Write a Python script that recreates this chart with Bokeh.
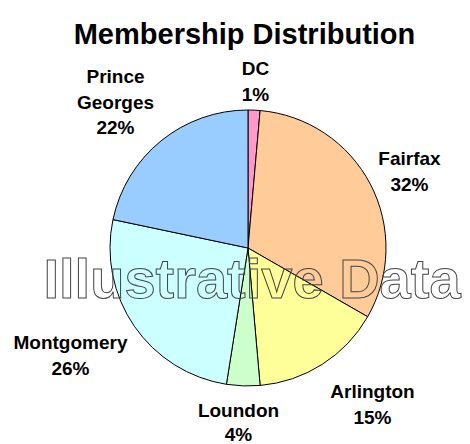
import math
from bokeh.plotting import figure
from bokeh.models import Range1d, ColumnDataSource
from bokeh.core.properties import value
from bokeh.embed import file_html
from bokeh.resources import INLINE

# ---- data ----
regions = ["DC", "Fairfax", "Arlington", "Loundon", "Montgomery", "Prince Georges"]
shares = [1.4, 31.9, 15.3, 3.9, 25.8, 21.7]
pct_labels = ["1%", "32%", "15%", "4%", "26%", "22%"]
colors = ["#FF99CC", "#FFCC99", "#FFFF99", "#CCFFCC", "#CCFFFF", "#99CCFF"]
title = "Membership Distribution"
watermark = "Illustrative Data"

# ---- layout (image pixel coords, converted below) ----
W, H = 470, 444
def Y(img_y):
    return H - img_y

cx, cy, r = 247.5, 247.5, 138
# label anchor (center x, baseline of first line, line gap) in image px
label_pos = {
    "DC": (255, 68, 25.5),
    "Fairfax": (409, 158, 25.5),
    "Arlington": (372, 391, 25.5),
    "Loundon": (238, 410, 24),
    "Montgomery": (70, 342, 25.5),
    "Prince Georges": (115, 76, 25.5),
}

p = figure(width=W, height=H, output_backend="svg", toolbar_location=None,
           x_range=Range1d(0, W), y_range=Range1d(0, H),
           min_border=0)
p.axis.visible = False
p.grid.visible = False
p.outline_line_color = None
p.background_fill_color = "white"

total = sum(shares)
cum = 0.0
starts, ends = [], []
for s in shares:
    a0 = math.pi / 2 - 2 * math.pi * cum / total
    cum += s
    a1 = math.pi / 2 - 2 * math.pi * cum / total
    starts.append(a0)
    ends.append(a1)

src = ColumnDataSource(dict(start=starts, end=ends, color=colors, region=regions))
p.wedge(x=cx, y=Y(cy), radius=r, start_angle="start", end_angle="end",
        direction="clock", fill_color="color", line_color="black", line_width=1,
        source=src)

# labels
lx, ly, lt = [], [], []
for reg, pct in zip(regions, pct_labels):
    x0, y0, gap = label_pos[reg]
    lines = ["Prince", "Georges"] if reg == "Prince Georges" else [reg]
    lines = lines + [pct]
    for i, t in enumerate(lines):
        lx.append(x0)
        ly.append(Y(y0 + i * gap))
        lt.append(t)
p.text(x=lx, y=ly, text=lt, text_align="center", text_baseline="alphabetic",
       text_font=value("Liberation Sans"), text_font_style="bold",
       text_font_size="19px", text_color="black")

# title
p.text(x=[244], y=[Y(33)], text=[title], text_align="center",
       text_baseline="alphabetic", text_font=value("Liberation Sans"),
       text_font_style="bold", text_font_size="29px", text_color="black")

# watermark (outlined, transparent fill)
p.text(x=[43], y=[Y(278)], text=[watermark], text_align="left",
       text_baseline="alphabetic", text_font=value("Liberation Sans"),
       text_font_style="bold", text_font_size="56px",
       text_color=(255, 255, 255, 0.0), text_alpha=1.0,
       text_outline_color="#444444")

open("out.html", "w").write(file_html(p, INLINE))
